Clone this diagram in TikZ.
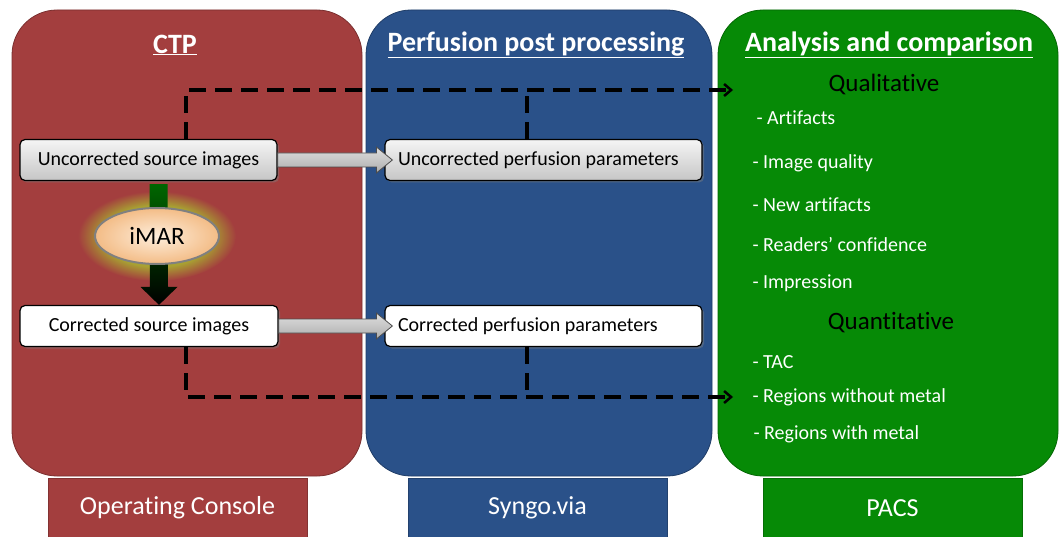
\documentclass[tikz,border=0pt]{standalone}
\usepackage{fontspec}
\setmainfont{Carlito}[Ligatures=NoCommon]
\usetikzlibrary{positioning,shapes.geometric,arrows.meta,calc,shadows}
\definecolor{ctpred}{HTML}{A33E3E}
\definecolor{postblue}{HTML}{2A5189}
\definecolor{pacsgreen}{HTML}{068A06}
\definecolor{glowyellow}{HTML}{A8A232}
\definecolor{imarlight}{HTML}{FEEEDC}
\definecolor{imardark}{HTML}{F3BC86}
\pgfdeclareradialshading{imarhalo}{\pgfpoint{0bp}{0bp}}{color(0bp)=(glowyellow); color(17bp)=(glowyellow); color(25bp)=(ctpred); color(50bp)=(ctpred)}

\tikzset{
    panel/.style={rounded corners=45pt, fill=#1, draw=#1!75!black, line width=0.8pt, inner sep=0, outer sep=0},
    basebox/.style={fill=#1, draw=#1!80!black, minimum height=59, minimum width=259, text=white, font=\fontsize{26}{31}\selectfont},
    coltitle/.style={text=white, font=\bfseries\fontsize{28}{33}\selectfont},
    stepbox/.style={draw=black, line width=1.2pt, rounded corners=5pt, minimum height=41, inner xsep=13pt,
        font=\fontsize{20}{24}\selectfont, drop shadow={shadow xshift=2pt, shadow yshift=-2pt, opacity=0.45}},
    graybox/.style={stepbox, top color=gray!8, bottom color=gray!45},
    whitebox/.style={stepbox, fill=white},
    parbox/.style={text width=291pt, align=flush left},
    blockarrow/.style={draw=black!70, line width=0.8pt, top color=gray!25, bottom color=gray!65},
    dashline/.style={line width=4pt, dash pattern=on 17pt off 9pt},
    item/.style={anchor=west, text=white, font=\fontsize{20}{24}\selectfont},
    subtitle/.style={text=black, font=\fontsize{25}{30}\selectfont}
}

\begin{document}
\begin{tikzpicture}[x=1pt, y=-1pt]
    \useasboundingbox (0,0) rectangle (1060,537);

    % three columns
    \node[panel=ctpred, minimum width=350, minimum height=466] (ctp) at (187,243) {};
    \node[panel=postblue, minimum width=346, minimum height=466] (post) at (539,243) {};
    \node[panel=pacsgreen, minimum width=340, minimum height=466] (pacs) at (888,243) {};

    \node[basebox=ctpred] (console) at (177.5,508) {Operating Console};
    \node[basebox=postblue] (syngo) at (537.5,508) {Syngo.via};
    \node[basebox=pacsgreen] (pacsbase) at (892.5,508) {PACS};

    \node[coltitle] (ctptitle) at (175,45) {\underline{CTP}};
    \node[coltitle] (posttitle) at (536,45) {\underline{Perfusion post processing}};
    \node[coltitle] (pacstitle) at (889,45) {\underline{Analysis and comparison}};

    % source images and parameters
    \node[graybox, minimum width=257] (uncsrc) at (148.5,160) {Uncorrected source images};
    \node[whitebox, minimum width=258] (corsrc) at (149,326) {Corrected source images};
    \node[graybox, parbox] (uncpar) at (543.5,160) {Uncorrected perfusion parameters};
    \node[whitebox, parbox] (corpar) at (543.5,326) {Corrected perfusion parameters};

    % iMAR step
    \node[ellipse, minimum width=158, minimum height=90, shading=imarhalo] (imarglow) at (157,236) {};
    \draw[draw=none, top color=green!40!black, bottom color=black]
        ($(uncsrc.south)+(1,3)$) -- ($(uncsrc.south)+(19,3)$) -- ($(corsrc.north)+(19,-18)$)
        -- ($(corsrc.north)+(28.5,-18)$) -- ($(corsrc.north)+(10,0)$) -- ($(corsrc.north)+(-8.5,-18)$)
        -- ($(corsrc.north)+(1,-18)$) -- cycle;
    \node[ellipse, minimum width=124, minimum height=56, draw=black!50, line width=2pt,
        inner color=imarlight, outer color=imardark, font=\fontsize{25}{30}\selectfont] (imar) at (157,236) {iMAR};

    % block arrows
    \draw[blockarrow] ($(uncsrc.east)+(0,-7)$) -- ($(uncpar.west)+(-8,-7)$) -- ($(uncpar.west)+(-8,-13)$)
        -- ($(uncpar.west)+(8,0)$) -- ($(uncpar.west)+(-8,13)$) -- ($(uncpar.west)+(-8,7)$)
        -- ($(uncsrc.east)+(0,7)$) -- cycle;
    \draw[blockarrow] ($(corsrc.east)+(0,-7)$) -- ($(corpar.west)+(-8,-7)$) -- ($(corpar.west)+(-8,-13)$)
        -- ($(corpar.west)+(8,0)$) -- ($(corpar.west)+(-8,13)$) -- ($(corpar.west)+(-8,7)$)
        -- ($(corsrc.east)+(0,7)$) -- cycle;

    % dashed links to analysis
    \coordinate (qualin) at (733,90);
    \coordinate (quantin) at (733,397);
    \coordinate (uncsrctap) at ($(uncsrc.north)+(37.5,0)$);
    \coordinate (uncpartap) at ($(uncpar.north)+(-16.5,0)$);
    \coordinate (corsrctap) at ($(corsrc.south)+(37,0)$);
    \coordinate (corpartap) at ($(corpar.south)+(-16.5,0)$);
    \draw[dashline, -{Straight Barb[length=7pt, width=12pt, line width=2.5pt]}] (uncsrctap) |- (qualin);
    \draw[dashline] (uncpartap) -- (uncpartap |- qualin);
    \draw[dashline, -{Straight Barb[length=7pt, width=12pt, line width=2.5pt]}] (corsrctap) |- (quantin);
    \draw[dashline] (corpartap) -- (corpartap |- quantin);

    % analysis items
    \node[subtitle] (qual) at (884,84) {Qualitative};
    \node[item] (artif) at (753,118) {- Artifacts};
    \node[item] (quality) at (749,163) {- Image quality};
    \node[item] (newart) at (749,205) {- New artifacts};
    \node[item] (confid) at (749,245) {- Readers’ confidence};
    \node[item] (impress) at (749,283) {- Impression};
    \node[subtitle] (quant) at (891,323) {Quantitative};
    \node[item] (tac) at (749,362) {- TAC};
    \node[item] (nometal) at (749,397) {- Regions without metal};
    \node[item] (metal) at (750,434) {- Regions with metal};
\end{tikzpicture}
\end{document}
